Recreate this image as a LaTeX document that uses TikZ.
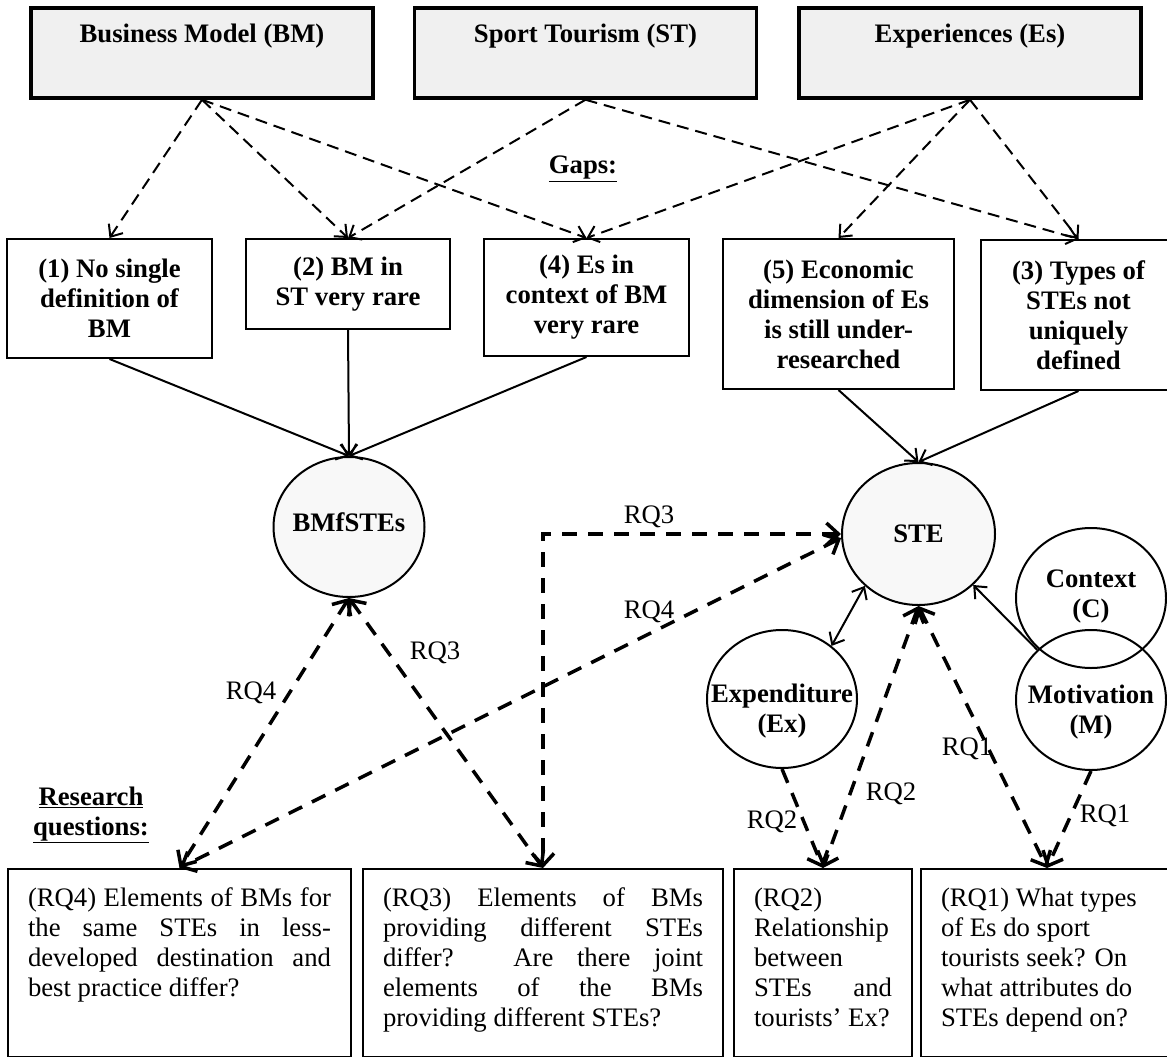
\documentclass[tikz,border=0pt]{standalone}
\usepackage{fontspec}
\setmainfont{Liberation Serif}
\usetikzlibrary{arrows.meta,shapes.geometric}

\newcommand\figfont{\fontsize{26.7pt}{30pt}\selectfont}
\newcommand\ovaltext[2]{\raisebox{#1}[0pt][0pt]{\makebox[0pt]{\begin{tabular}[t]{@{}c@{}}#2\end{tabular}}}}
\newcommand\rqtext[2]{\parbox[t][156pt][t]{#1}{\tolerance=10000\hyphenpenalty=10000\strut#2}}

\tikzset{
  topbox/.style={draw,line width=3.5pt,fill={rgb,255:red,240;green,240;blue,240},minimum width=342pt,minimum height=90pt,inner sep=0pt,font=\figfont\bfseries,text height=18pt,text depth=38pt},
  gapbox/.style={draw,line width=2pt,fill=white,inner sep=0pt,align=center,font=\figfont\bfseries},
  ovalnode/.style={ellipse,draw,line width=2pt,inner sep=0pt,font=\figfont\bfseries},
  rqbox/.style={draw,line width=2pt,anchor=north west,inner xsep=20pt,inner ysep=16pt,font=\figfont},
  rqlabel/.style={inner sep=0pt,font=\figfont},
  headlabel/.style={inner sep=0pt,align=center,font=\figfont\bfseries},
  thinlink/.style={line width=2pt,dash pattern=on 12pt off 7pt,-{Straight Barb[length=10pt,width=17pt]}},
  solidlink/.style={line width=2pt,-{Straight Barb[length=10pt,width=17pt]}},
  solidboth/.style={line width=2pt,{Straight Barb[length=10pt,width=17pt]}-{Straight Barb[length=10pt,width=17pt]}},
  rqlink/.style={line width=3.5pt,dash pattern=on 15pt off 11pt,{Straight Barb[length=12pt,width=22pt]}-{Straight Barb[length=12pt,width=22pt]}},
  rqone/.style={line width=3.5pt,dash pattern=on 15pt off 11pt,-{Straight Barb[length=12pt,width=22pt]}}
}

\begin{document}
\begin{tikzpicture}[x=1pt,y=1pt,yscale=-1,xscale=1]
\useasboundingbox (0,0) rectangle (1167,1057);
\node[topbox] (bm) at (202,53) {Business Model (BM)};
\node[topbox] (st) at (585.5,53) {Sport Tourism (ST)};
\node[topbox] (es) at (970,53) {Experiences (Es)};
\node[headlabel] (gaps) at (583,169) {\underline{Gaps:}};
\node[gapbox,minimum width=205pt,minimum height=119pt] (g1) at (109.5,298.5) {(1) No single\\definition of\\BM};
\node[gapbox,minimum width=204pt,minimum height=90pt] (g2) at (348,284) {(2) BM in\\ST very rare};
\node[gapbox,minimum width=205pt,minimum height=117pt] (g4) at (586.5,297.5) {(4) Es in\\context of BM\\very rare};
\node[gapbox,minimum width=231pt,minimum height=150pt] (g5) at (838.5,314) {(5) Economic\\dimension of Es\\is still under-\\researched};
\node[gapbox,minimum width=195pt,minimum height=150pt] (g3) at (1078.5,315) {(3) Types of\\STEs not\\uniquely\\defined};
\node[ovalnode,fill={rgb,255:red,248;green,248;blue,248},minimum width=151pt,minimum height=140pt] (bmf) at (349,527) {\ovaltext{-4pt}{BMfSTEs}};
\node[ovalnode,fill={rgb,255:red,248;green,248;blue,248},minimum width=153pt,minimum height=142pt] (ste) at (918.5,534) {\ovaltext{-8pt}{STE}};
\node[ovalnode,minimum width=150pt,minimum height=140pt] (ctx) at (1091,598) {\ovaltext{11pt}{Context\\(C)}};
\node[ovalnode,minimum width=150pt,minimum height=140pt] (mot) at (1091,700) {\ovaltext{-3pt}{Motivation\\(M)}};
\node[ovalnode,minimum width=150pt,minimum height=138pt] (exx) at (782,699) {\ovaltext{-3pt}{Expenditure\\(Ex)}};
\node[headlabel] (rqhead) at (91,815) {\underline{Research}\\\underline{questions:}};
\node[rqbox] (rq4) at (7,868) {\rqtext{303pt}{(RQ4) Elements of BMs for\linebreak the same STEs in less-\linebreak developed destination and\linebreak best practice differ?}};
\node[rqbox] (rq3) at (362,868) {\rqtext{320pt}{(RQ3) Elements of BMs\linebreak providing different STEs\linebreak differ? Are there joint\linebreak elements of the BMs\linebreak providing different STEs?}};
\node[rqbox] (rq2) at (733,868) {\rqtext{138pt}{(RQ2)\\Relationship\\between\\STEs and\linebreak tourists’ Ex?}};
\node[rqbox] (rq1) at (920,868) {\rqtext{212pt}{\raggedright (RQ1) What types\\of Es do sport\\tourists seek? On\\what attributes do\\STEs depend on?}};
\node[rqlabel] (lrq3a) at (649,517) {RQ3};
\node[rqlabel] (lrq4a) at (649,612) {RQ4};
\node[rqlabel] (lrq3b) at (435,653) {RQ3};
\node[rqlabel] (lrq4b) at (251,693) {RQ4};
\node[rqlabel] (lrq2a) at (772,822) {RQ2};
\node[rqlabel] (lrq2b) at (891,794) {RQ2};
\node[rqlabel] (lrq1a) at (967,749) {RQ1};
\node[rqlabel] (lrq1b) at (1105,816) {RQ1};
\draw[thinlink] (bm.south) -- (g1.north);
\draw[thinlink] (bm.south) -- (g2.north);
\draw[thinlink] (bm.south) -- (g4.north);
\draw[thinlink] (st.south) -- (g2.north);
\draw[thinlink] (st.south) -- (g3.north);
\draw[thinlink] (es.south) -- (g4.north);
\draw[thinlink] (es.south) -- (g5.north);
\draw[thinlink] (es.south) -- (g3.north);
\draw[solidlink] (g1.south) -- (bmf.north);
\draw[solidlink] (g2.south) -- (bmf.north);
\draw[solidlink] (g4.south) -- (bmf.north);
\draw[solidlink] (g5.south) -- (ste.north);
\draw[solidlink] (g3.south) -- (ste.north);
\draw[solidboth] (exx.47) -- (ste.224);
\draw[solidlink] (mot.137) -- (ste.317);
\draw[rqlink] (bmf.south) -- (rq4.north);
\draw[rqlink] (bmf.south) -- (rq3.north);
\draw[rqlink] (ste.west) -| (rq3.north);
\draw[rqlink] (ste.183) -- (rq4.north);
\draw[rqlink] (ste.south) -- (rq2.north);
\draw[rqlink] (ste.south) -- (rq1.north);
\draw[rqone] (exx.south) -- (rq2.north);
\draw[rqone] (mot.south) -- (rq1.north);
\end{tikzpicture}
\end{document}
